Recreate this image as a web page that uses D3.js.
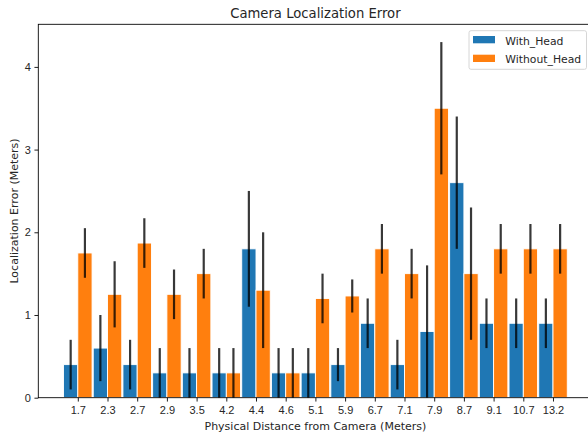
<!DOCTYPE html>
<html>
<head>
<meta charset="utf-8">
<script src="https://cdn.jsdelivr.net/npm/d3@7"></script>
<style>
  body { margin: 0; background: #fff; }
  svg { display: block; font-family: "DejaVu Sans", sans-serif; }
</style>
</head>
<body>
<div id="chart"></div>
<script>
// data
const distances = ["1.7", "2.3", "2.7", "2.9", "3.5", "4.2", "4.4", "4.6", "5.1",
  "5.9", "6.7", "7.1", "7.9", "8.7", "9.1", "10.7", "13.2"];
const withHead = [0.4, 0.6, 0.4, 0.3, 0.3, 0.3, 1.8, 0.3, 0.3, 0.4, 0.9, 0.4, 0.8, 2.6, 0.9, 0.9, 0.9];
const withHeadErr = [0.3, 0.4, 0.3, 0.3, 0.3, 0.3, 0.7, 0.3, 0.3, 0.2, 0.3, 0.3, 0.8, 0.8, 0.3, 0.3, 0.3];
const withoutHead = [1.75, 1.25, 1.87, 1.25, 1.5, 0.3, 1.3, 0.3, 1.2, 1.23, 1.8, 1.5, 3.5, 1.5, 1.8, 1.8, 1.8];
const withoutHeadErr = [0.3, 0.4, 0.3, 0.3, 0.3, 0.3, 0.7, 0.3, 0.3, 0.2, 0.3, 0.3, 0.8, 0.8, 0.3, 0.3, 0.3];
const yTicks = [0, 1, 2, 3, 4];
const seriesNames = ["With_Head", "Without_Head"];
const colors = ["#1f77b4", "#ff7f0e"];

// sizing
const width = 588, height = 435;
const plot = { left: 38.3, top: 24.3, right: 592.5, bottom: 397.7 };
const barW = 0.48;

const svg = d3.select("#chart")
  .append("svg")
  .attr("width", width)
  .attr("height", height);

// scales
const x = d3.scaleLinear().domain([-1.33, 17.33]).range([plot.left, plot.right]);
const y = d3.scaleLinear().domain([0, 4.515]).range([plot.bottom, plot.top]);

const series = [
  { name: seriesNames[0], vals: withHead, errs: withHeadErr, off: -barW, color: colors[0] },
  { name: seriesNames[1], vals: withoutHead, errs: withoutHeadErr, off: 0, color: colors[1] }
];

// bars
series.forEach(s => {
  svg.append("g")
    .selectAll("rect")
    .data(s.vals)
    .join("rect")
    .attr("x", (d, i) => x(i + s.off))
    .attr("y", d => y(d))
    .attr("width", x(barW) - x(0))
    .attr("height", d => y(0) - y(d))
    .attr("fill", s.color)
    .attr("stroke", "#fff")
    .attr("stroke-width", 0.9);
});

// error bars
series.forEach(s => {
  svg.append("g")
    .selectAll("line")
    .data(s.vals)
    .join("line")
    .attr("x1", (d, i) => x(i + s.off + barW / 2))
    .attr("x2", (d, i) => x(i + s.off + barW / 2))
    .attr("y1", (d, i) => y(d + s.errs[i]))
    .attr("y2", (d, i) => y(Math.max(0, d - s.errs[i])))
    .attr("stroke", "#000")
    .attr("stroke-opacity", 0.78)
    .attr("stroke-width", 2.2);
});

// axes
const xAxis = d3.axisBottom(x)
  .tickValues(d3.range(distances.length))
  .tickFormat(i => distances[i])
  .tickSize(3.85)
  .tickPadding(5);
const yAxis = d3.axisLeft(y)
  .tickValues(yTicks)
  .tickFormat(d3.format("d"))
  .tickSize(3.85)
  .tickPadding(3.5);

const gx = svg.append("g")
  .attr("transform", `translate(0,${plot.bottom})`)
  .call(xAxis);
const gy = svg.append("g")
  .attr("transform", `translate(${plot.left},0)`)
  .call(yAxis);

[gx, gy].forEach(g => {
  g.select(".domain").remove();
  g.selectAll(".tick line").attr("stroke", "#000").attr("stroke-width", 0.88);
  g.selectAll(".tick text").attr("fill", "#262626").attr("font-size", "11px");
});

// frame
svg.append("rect")
  .attr("x", plot.left)
  .attr("y", plot.top)
  .attr("width", plot.right - plot.left)
  .attr("height", plot.bottom - plot.top)
  .attr("fill", "none")
  .attr("stroke", "#000")
  .attr("stroke-width", 0.88);

// title and labels
const cx = (plot.left + plot.right) / 2;
svg.append("text")
  .attr("x", cx)
  .attr("y", 18)
  .attr("text-anchor", "middle")
  .attr("font-size", "13.2px")
  .attr("fill", "#262626")
  .text("Camera Localization Error");

svg.append("text")
  .attr("x", cx)
  .attr("y", 429.5)
  .attr("text-anchor", "middle")
  .attr("font-size", "11px")
  .attr("fill", "#262626")
  .text("Physical Distance from Camera (Meters)");

svg.append("text")
  .attr("transform", `translate(18,${(plot.top + plot.bottom) / 2}) rotate(-90)`)
  .attr("text-anchor", "middle")
  .attr("font-size", "11px")
  .attr("fill", "#262626")
  .text("Localization Error (Meters)");

// legend
const legend = svg.append("g").attr("transform", "translate(469,30.7)");
legend.append("rect")
  .attr("width", 117.5)
  .attr("height", 38.6)
  .attr("rx", 2)
  .attr("fill", "#fff")
  .attr("fill-opacity", 0.8)
  .attr("stroke", "#ccc")
  .attr("stroke-width", 0.8);

const item = legend.selectAll("g.item")
  .data(series)
  .join("g")
  .attr("class", "item")
  .attr("transform", (d, i) => `translate(0,${5.3 + i * 18.7})`);

item.append("rect")
  .attr("x", 4)
  .attr("width", 22)
  .attr("height", 7.3)
  .attr("fill", d => d.color);

item.append("text")
  .attr("x", 36.3)
  .attr("y", 8.5)
  .attr("font-size", "10.8px")
  .attr("fill", "#262626")
  .text(d => d.name);
</script>
</body>
</html>
